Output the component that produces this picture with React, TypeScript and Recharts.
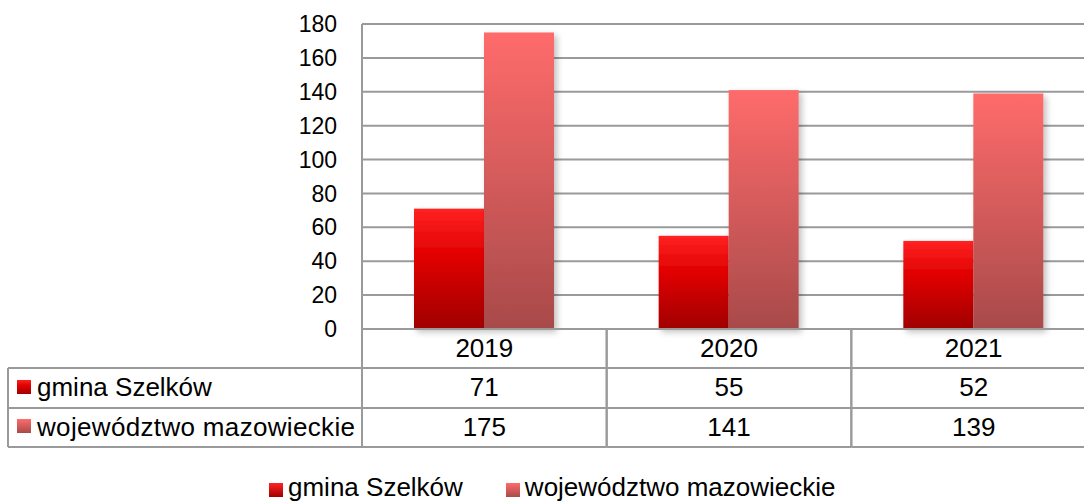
import React from 'react';
import { BarChart, Bar, XAxis, YAxis, CartesianGrid } from 'recharts';

const categories = ['2019', '2020', '2021'];
const gminaValues = [71, 55, 52];
const wojValues = [175, 141, 139];
const yTicks = [0, 20, 40, 60, 80, 100, 120, 140, 160, 180];
const seriesNames = ['gmina Szelków', 'województwo mazowieckie'];

const data = categories.map((c, i) => ({ year: c, gmina: gminaValues[i], woj: wojValues[i] }));

const CHART_W = 1096;
const CHART_H = 502;
const PLOT_LEFT = 362;
const PLOT_TOP = 24;
const PLOT_BOTTOM = 329;
const ROW1 = 368;
const ROW2 = 408;
const ROW3 = 447;
const TABLE_LEFT = 8;
const LINE = '#9a9a9a';
const FONT = '"Liberation Sans", Arial, sans-serif';

const TableTick = (props: any) => {
  const { x, index, payload } = props;
  const half = payload && payload.offset ? payload.offset : (CHART_W - PLOT_LEFT) / categories.length / 2;
  const left = x - half;
  const right = x + half;
  const i = index;
  return (
    <g>
      {i === 0 && (
        <g>
          <line x1={TABLE_LEFT} y1={ROW1} x2={left} y2={ROW1} stroke={LINE} strokeWidth={2} />
          <line x1={TABLE_LEFT} y1={ROW2} x2={left} y2={ROW2} stroke={LINE} strokeWidth={2} />
          <line x1={TABLE_LEFT} y1={ROW3} x2={left} y2={ROW3} stroke={LINE} strokeWidth={2} />
          <line x1={TABLE_LEFT} y1={ROW1} x2={TABLE_LEFT} y2={ROW3} stroke={LINE} strokeWidth={2} />
          <rect x={17} y={380} width={14} height={14} fill="url(#gRed)" />
          <rect x={17} y={419} width={14} height={14} fill="url(#gPink)" />
          <text x={37} y={396} fontSize={26} fontFamily={FONT} fill="#000">{seriesNames[0]}</text>
          <text x={37} y={436} fontSize={26} fontFamily={FONT} fill="#000" textLength={318} lengthAdjust="spacing">{seriesNames[1]}</text>
        </g>
      )}
      <line x1={left} y1={i === 0 ? PLOT_TOP : PLOT_BOTTOM} x2={left} y2={ROW3} stroke={LINE} strokeWidth={2} />
      <line x1={right} y1={PLOT_BOTTOM} x2={right} y2={ROW3} stroke={LINE} strokeWidth={2} />
      <line x1={left} y1={ROW1} x2={right} y2={ROW1} stroke={LINE} strokeWidth={2} />
      <line x1={left} y1={ROW2} x2={right} y2={ROW2} stroke={LINE} strokeWidth={2} />
      <line x1={left} y1={ROW3} x2={right} y2={ROW3} stroke={LINE} strokeWidth={2} />
      <text x={x} y={357} textAnchor="middle" fontSize={26} fontFamily={FONT} fill="#000">{payload.value}</text>
      <text x={x} y={396} textAnchor="middle" fontSize={26} fontFamily={FONT} fill="#000">{gminaValues[i]}</text>
      <text x={x} y={436} textAnchor="middle" fontSize={26} fontFamily={FONT} fill="#000">{wojValues[i]}</text>
    </g>
  );
};

const ShadowBar = (props: any) => {
  const { x, y, width, height, fill } = props;
  if (!height || height <= 0) return null;
  return <rect x={x} y={y} width={width} height={height} fill={fill} filter="url(#barShadow)" />;
};

export default function App() {
  return (
    <div style={{ position: 'absolute', left: 0, top: 0, width: 1084, height: 502, overflow: 'hidden', background: '#fff' }}>
      <BarChart
        width={CHART_W}
        height={CHART_H}
        data={data}
        margin={{ top: PLOT_TOP, right: 0, left: PLOT_LEFT - 60, bottom: 0 }}
        barGap={0}
        barSize={70}
      >
        <defs>
          <linearGradient id="gRed" x1="0" y1="0" x2="0" y2="1">
            <stop offset="0%" stopColor="#ff2222" />
            <stop offset="40%" stopColor="#e00000" />
            <stop offset="100%" stopColor="#a00000" />
          </linearGradient>
          <linearGradient id="gPink" x1="0" y1="0" x2="0" y2="1">
            <stop offset="0%" stopColor="#ff6b6b" />
            <stop offset="100%" stopColor="#a84a4a" />
          </linearGradient>
          <filter id="barShadow" x="-20%" y="-10%" width="150%" height="130%">
            <feDropShadow dx="3" dy="3" stdDeviation="3" floodColor="#000" floodOpacity="0.25" />
          </filter>
        </defs>
        <CartesianGrid horizontal vertical={false} stroke={LINE} strokeWidth={2} strokeDasharray="" />
        <YAxis
          width={60}
          domain={[0, 180]}
          ticks={yTicks}
          interval={0}
          axisLine={{ stroke: LINE, strokeWidth: 2 }}
          tickLine={false}
          tickSize={6}
          tickMargin={19}
          tick={{ fontSize: 23, fontFamily: FONT, fill: '#000' }}
        />
        <XAxis
          dataKey="year"
          height={CHART_H - PLOT_BOTTOM}
          axisLine={{ stroke: LINE, strokeWidth: 2 }}
          tickLine={false}
          interval={0}
          tick={<TableTick />}
        />
        <Bar dataKey="gmina" name={seriesNames[0]} fill="url(#gRed)" shape={<ShadowBar />} isAnimationActive={false} />
        <Bar dataKey="woj" name={seriesNames[1]} fill="url(#gPink)" shape={<ShadowBar />} isAnimationActive={false} />
      </BarChart>
      <div style={{ position: 'absolute', left: 269, top: 472, display: 'flex', alignItems: 'center', fontFamily: FONT, fontSize: 26, lineHeight: '30px', color: '#000', whiteSpace: 'nowrap' }}>
        <span style={{ display: 'inline-block', width: 14, height: 14, background: 'linear-gradient(#ff2222, #a00000)', marginRight: 5, marginTop: 6 }} />
        <span>{seriesNames[0]}</span>
        <span style={{ display: 'inline-block', width: 14, height: 14, background: 'linear-gradient(#ff6b6b, #a84a4a)', marginLeft: 43, marginRight: 5, marginTop: 6 }} />
        <span>{seriesNames[1]}</span>
      </div>
    </div>
  );
}
